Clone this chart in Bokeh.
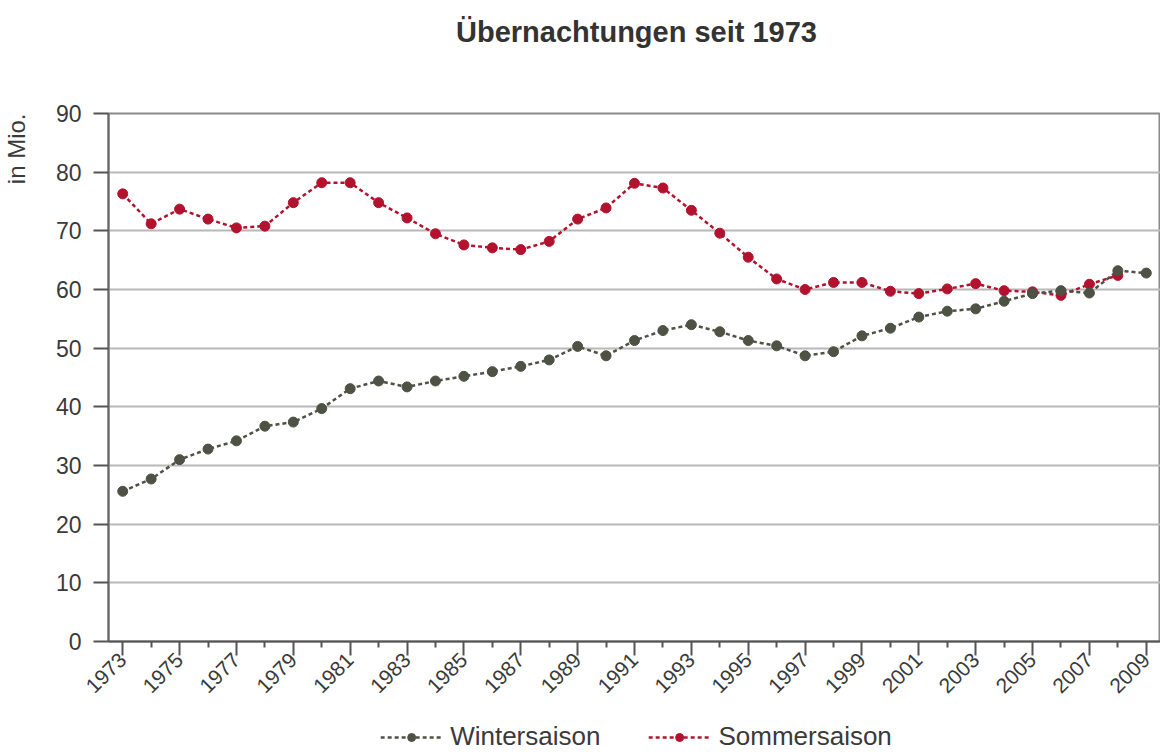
from math import pi
from bokeh.plotting import figure
from bokeh.layouts import column, row
from bokeh.models import (Range1d, FixedTicker, Legend, LegendItem, Title,
                          ColumnDataSource)
from bokeh.embed import file_html
from bokeh.resources import INLINE

# ---- data -------------------------------------------------------------
years_winter = list(range(1973, 2010))
winter = [25.6, 27.7, 31.0, 32.8, 34.2, 36.7, 37.4, 39.7, 43.1, 44.4,
          43.4, 44.4, 45.2, 46.0, 46.9, 48.0, 50.3, 48.7, 51.3, 53.0,
          54.0, 52.8, 51.3, 50.4, 48.7, 49.4, 52.1, 53.4, 55.3, 56.3,
          56.7, 58.0, 59.3, 59.8, 59.4, 63.2, 62.8]
years_summer = list(range(1973, 2009))
summer = [76.3, 71.2, 73.7, 72.0, 70.5, 70.8, 74.8, 78.2, 78.2, 74.8,
          72.2, 69.5, 67.6, 67.1, 66.8, 68.2, 72.0, 73.9, 78.1, 77.3,
          73.5, 69.6, 65.5, 61.8, 60.0, 61.2, 61.2, 59.7, 59.3, 60.1,
          61.0, 59.8, 59.6, 59.0, 60.9, 62.4]
labeled_years = list(range(1973, 2010, 2))
unlabeled_years = list(range(1974, 2009, 2))
y_ticks = [0, 10, 20, 30, 40, 50, 60, 70, 80, 90]

title_text = "Übernachtungen seit 1973"
y_label = "in Mio."
name_winter = "Wintersaison"
name_summer = "Sommersaison"

# ---- style ------------------------------------------------------------
FONT = "Liberation Sans"
RED = "#b3122f"
GREY = "#4d5244"
TXT = "#3a3a3a"
W = 1160
LABEL_W = 32
MAIN_H = 647


def bare(width, height, **kw):
    f = figure(width=width, height=height, output_backend="svg",
               toolbar_location=None, x_axis_type=None, y_axis_type=None,
               x_range=Range1d(0, 1), y_range=Range1d(0, 1), **kw)
    f.outline_line_color = None
    f.grid.grid_line_color = None
    f.border_fill_color = "white"
    f.background_fill_color = "white"
    return f


src_s = ColumnDataSource(dict(x=years_summer, y=summer))
src_w = ColumnDataSource(dict(x=years_winter, y=winter))

# ---- title strip --------------------------------------------------------
tf = bare(W, 60, min_border_left=108, min_border_right=0, min_border_top=56,
          min_border_bottom=0)
tf.add_layout(Title(text=title_text, align="center", text_font=FONT,
                    text_font_size="29px", text_font_style="bold",
                    text_color="#333333", standoff=18), "above")

# ---- y label strip --------------------------------------------------------
yf = bare(LABEL_W, MAIN_H, min_border_left=29, min_border_right=0,
          min_border_top=53, min_border_bottom=66)
yf.add_layout(Title(text=y_label, align="right", text_font=FONT,
                    text_font_size="24px", text_font_style="normal",
                    text_color=TXT, standoff=0), "left")

# ---- main plot ------------------------------------------------------------
p = figure(width=W - LABEL_W, height=MAIN_H, output_backend="svg",
           toolbar_location=None,
           x_range=Range1d(1972.5, 2009.5), y_range=Range1d(0, 90),
           min_border_left=108 - LABEL_W, min_border_right=0,
           min_border_top=53, min_border_bottom=66)
p.background_fill_color = "white"
p.border_fill_color = "white"
p.outline_line_color = "#8a8a8a"
p.outline_line_width = 2

p.xaxis.ticker = FixedTicker(ticks=labeled_years, minor_ticks=unlabeled_years)
p.xaxis.major_label_orientation = pi / 4
p.xaxis.major_label_text_font = FONT
p.xaxis.major_label_text_font_size = "21px"
p.xaxis.major_label_text_color = TXT
p.xaxis.major_tick_out = 14
p.xaxis.major_tick_in = 0
p.xaxis.minor_tick_out = 6
p.xaxis.minor_tick_in = 0
p.xaxis.major_tick_line_color = "#555555"
p.xaxis.minor_tick_line_color = "#555555"
p.xaxis.major_tick_line_width = 2
p.xaxis.minor_tick_line_width = 2
p.xaxis.axis_line_color = "#555555"
p.xaxis.axis_line_width = 2
p.xaxis.major_label_standoff = 1

p.yaxis.ticker = FixedTicker(ticks=y_ticks)
p.yaxis.minor_tick_line_color = None
p.yaxis.major_label_text_font = FONT
p.yaxis.major_label_text_font_size = "23px"
p.yaxis.major_label_text_color = TXT
p.yaxis.major_tick_out = 15
p.yaxis.major_tick_in = 0
p.yaxis.major_tick_line_color = "#555555"
p.yaxis.major_tick_line_width = 2
p.yaxis.axis_line_color = "#666666"
p.yaxis.axis_line_width = 2
p.yaxis.major_label_standoff = 12

p.xgrid.grid_line_color = None
p.ygrid.grid_line_color = "#b8b8b8"
p.ygrid.grid_line_width = 2

sl = p.line("x", "y", source=src_s, line_color=RED, line_width=2.5,
            line_dash="4 3")
ss = p.scatter("x", "y", source=src_s, size=10, fill_color=RED,
               line_color=RED)
wl = p.line("x", "y", source=src_w, line_color=GREY, line_width=2.5,
            line_dash="4 3")
ws = p.scatter("x", "y", source=src_w, size=10, fill_color=GREY,
               line_color=GREY)

# ---- legend strip (same series, outside its 0..1 view) --------------------
lf = bare(W, 45, min_border_left=112, min_border_right=0, min_border_top=0,
          min_border_bottom=0)
lwl = lf.line("x", "y", source=src_w, line_color=GREY, line_width=2.5,
              line_dash="4 3")
lws = lf.scatter("x", "y", source=src_w, size=10, fill_color=GREY,
                 line_color=GREY)
lsl = lf.line("x", "y", source=src_s, line_color=RED, line_width=2.5,
              line_dash="4 3")
lss = lf.scatter("x", "y", source=src_s, size=10, fill_color=RED,
                 line_color=RED)
legend = Legend(items=[LegendItem(label=name_winter, renderers=[lwl, lws]),
                       LegendItem(label=name_summer, renderers=[lsl, lss])],
                orientation="horizontal", location="bottom_center",
                glyph_width=62, glyph_height=20, label_text_font=FONT,
                label_text_font_size="26px", label_text_color=TXT,
                spacing=48, padding=0, margin=0, border_line_color=None,
                background_fill_alpha=0, label_standoff=8)
lf.add_layout(legend, "center")

layout = column(tf, row(yf, p, spacing=0), lf, spacing=0)
open("out.html", "w").write(file_html(layout, INLINE))
